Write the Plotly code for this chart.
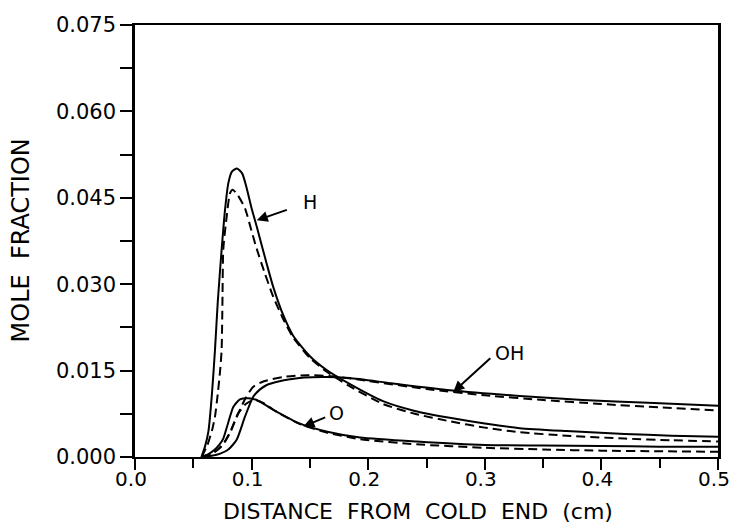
import plotly.graph_objects as go

# ---- data ----
h_solid_x = [0.057, 0.060, 0.063, 0.066, 0.0686, 0.071, 0.0743, 0.0772, 0.080, 0.083, 0.0875, 0.092, 0.096,
             0.100, 0.1044, 0.113, 0.1186, 0.127, 0.1358, 0.150, 0.1644, 0.184, 0.2127, 0.240, 0.270, 0.300,
             0.330, 0.370, 0.420, 0.460, 0.500]
h_solid_y = [0.0, 0.0018, 0.0045, 0.0110, 0.0186, 0.0270, 0.0360, 0.0429, 0.0475, 0.0495, 0.0501, 0.0492, 0.0465,
             0.0432, 0.0400, 0.0335, 0.0295, 0.0247, 0.0210, 0.0175, 0.0151, 0.0127, 0.0097, 0.0080, 0.0068, 0.0058,
             0.0050, 0.0045, 0.0040, 0.0037, 0.0035]

h_dash_x = [0.057, 0.062, 0.0665, 0.0686, 0.071, 0.0730, 0.0743, 0.0750, 0.0757, 0.0786, 0.0815, 0.0838, 0.088,
            0.0943, 0.100, 0.104, 0.1115, 0.1186, 0.127, 0.1358, 0.150, 0.1644, 0.184, 0.2127, 0.240, 0.270, 0.300,
            0.330, 0.370, 0.420, 0.460, 0.500]
h_dash_y = [0.0, 0.0020, 0.0050, 0.0070, 0.0110, 0.0150, 0.0186, 0.0270, 0.0360, 0.0417, 0.0458, 0.0464, 0.0455,
            0.0432, 0.0392, 0.0364, 0.0318, 0.0278, 0.0240, 0.0207, 0.0172, 0.0148, 0.0123, 0.0092, 0.0075, 0.0062,
            0.0051, 0.0043, 0.0037, 0.0032, 0.0029, 0.0027]

oh_solid_x = [0.057, 0.070, 0.080, 0.0872, 0.0943, 0.1015, 0.107, 0.113, 0.123, 0.133, 0.145, 0.164, 0.184, 0.220,
              0.270, 0.330, 0.384, 0.440, 0.500]
oh_solid_y = [0.0, 0.0004, 0.0013, 0.0030, 0.0070, 0.0105, 0.0117, 0.0125, 0.0131, 0.0135, 0.0138, 0.0139, 0.0137,
              0.0128, 0.0116, 0.0106, 0.0099, 0.0094, 0.0089]

oh_dash_x = [0.057, 0.068, 0.075, 0.0815, 0.0886, 0.095, 0.1015, 0.110, 0.127, 0.147, 0.170, 0.200, 0.250, 0.300,
             0.350, 0.400, 0.450, 0.500]
oh_dash_y = [0.0, 0.0008, 0.0020, 0.0042, 0.0076, 0.0103, 0.0122, 0.0131, 0.0139, 0.0142, 0.0140, 0.0132, 0.0118,
             0.0107, 0.0099, 0.0092, 0.0086, 0.0081]

o_solid_x = [0.057, 0.063, 0.068, 0.0725, 0.0757, 0.080, 0.0843, 0.090, 0.0972, 0.1044, 0.1186, 0.1415, 0.165,
             0.193, 0.2416, 0.300, 0.350, 0.400, 0.450, 0.500]
o_solid_y = [0.0, 0.0005, 0.0012, 0.0022, 0.0032, 0.0060, 0.0087, 0.0100, 0.0102, 0.0099, 0.0082, 0.0058, 0.0044,
             0.0034, 0.0027, 0.0021, 0.0020, 0.0019, 0.0018, 0.0018]

o_dash_x = [0.057, 0.065, 0.072, 0.078, 0.083, 0.088, 0.095, 0.102, 0.110, 0.1186, 0.1415, 0.165, 0.193, 0.2416,
            0.300, 0.350, 0.400, 0.450, 0.500]
o_dash_y = [0.0, 0.0005, 0.0015, 0.0030, 0.0050, 0.0074, 0.0092, 0.0099, 0.0094, 0.0082, 0.0057, 0.0042, 0.0031,
            0.0022, 0.0016, 0.0013, 0.0011, 0.0010, 0.0009]

x_tick_vals = [0.0, 0.1, 0.2, 0.3, 0.4, 0.5]
x_tick_text = ["0.0", "0.1", "0.2", "0.3", "0.4", "0.5"]
y_tick_vals = [0.0, 0.015, 0.030, 0.045, 0.060, 0.075]
y_tick_text = ["0.000", "0.015", "0.030", "0.045", "0.060", "0.075"]

FONT = "DejaVu Sans"

fig = go.Figure()

series = [
    (h_solid_x, h_solid_y, "solid"),
    (h_dash_x, h_dash_y, "9px,5px"),
    (oh_solid_x, oh_solid_y, "solid"),
    (oh_dash_x, oh_dash_y, "9px,5px"),
    (o_solid_x, o_solid_y, "solid"),
    (o_dash_x, o_dash_y, "9px,5px"),
]
for xs, ys, dash in series:
    fig.add_trace(go.Scatter(
        x=xs, y=ys, mode="lines",
        line=dict(color="black", width=2, dash=dash, shape="spline", smoothing=0.6),
        showlegend=False, hoverinfo="skip",
    ))

# curve labels
labels = [("H", 0.150, 0.0443), ("OH", 0.3216, 0.0180), ("O", 0.173, 0.0076)]
for txt, lx, ly in labels:
    fig.add_annotation(x=lx, y=ly, xref="x", yref="y", text=txt, showarrow=False,
                       xanchor="center", yanchor="middle",
                       font=dict(family=FONT, size=19, color="black"))

arrows = [  # head x, head y, tail x, tail y
    (0.1044, 0.0411, 0.1315, 0.0430),
    (0.273, 0.0113, 0.306, 0.0174),
    (0.1444, 0.0053, 0.1644, 0.0070),
]
for hx, hy, tx, ty in arrows:
    fig.add_annotation(x=hx, y=hy, ax=tx, ay=ty, xref="x", yref="y", axref="x", ayref="y",
                       text="", showarrow=True, arrowhead=2, arrowsize=1.1, arrowwidth=2,
                       arrowcolor="black", standoff=0, startstandoff=0)

# axis titles
fig.add_annotation(x=0.4854, y=-0.125, xref="paper", yref="paper",
                   text="DISTANCE  FROM  COLD  END  (cm)", showarrow=False,
                   xanchor="center", yanchor="middle",
                   font=dict(family=FONT, size=22, color="black"))
fig.add_annotation(x=-0.195, y=0.502, xref="paper", yref="paper",
                   text="MOLE  FRACTION", showarrow=False, textangle=-90,
                   xanchor="center", yanchor="middle",
                   font=dict(family=FONT, size=24, color="black"))

fig.update_xaxes(
    range=[0, 0.5], tickvals=x_tick_vals, ticktext=x_tick_text,
    ticks="outside", ticklen=11, tickwidth=2, tickcolor="black",
    minor=dict(dtick=0.05, tick0=0, ticks="outside", ticklen=9, tickwidth=2, tickcolor="black"),
    showline=True, linewidth=2, linecolor="black", mirror=True,
    showgrid=False, zeroline=False, ticklabelstandoff=-8, ticklabeloverflow="allow",
    ticklabelshift=-4, automargin=False,
    tickfont=dict(family=FONT, size=20, color="black"),
)
fig.update_yaxes(
    range=[0, 0.075], tickvals=y_tick_vals, ticktext=y_tick_text,
    ticks="outside", ticklen=12, tickwidth=2, tickcolor="black",
    minor=dict(dtick=0.0075, tick0=0, ticks="outside", ticklen=12, tickwidth=2, tickcolor="black"),
    showline=True, linewidth=2.5, linecolor="black", mirror=True,
    showgrid=False, zeroline=False, ticklabeloverflow="allow",
    automargin=False,
    tickfont=dict(family=FONT, size=21, color="black"),
)

fig.update_layout(
    width=732, height=527,
    margin=dict(l=135, r=14, t=25, b=70, autoexpand=False),
    paper_bgcolor="white", plot_bgcolor="white",
)

# remove the browser's default 8px body margin so the figure fills the window
fig.write_html("out.html",
               config={"displayModeBar": False},
               post_script="document.body.style.margin='0';document.body.style.overflow='hidden';")
